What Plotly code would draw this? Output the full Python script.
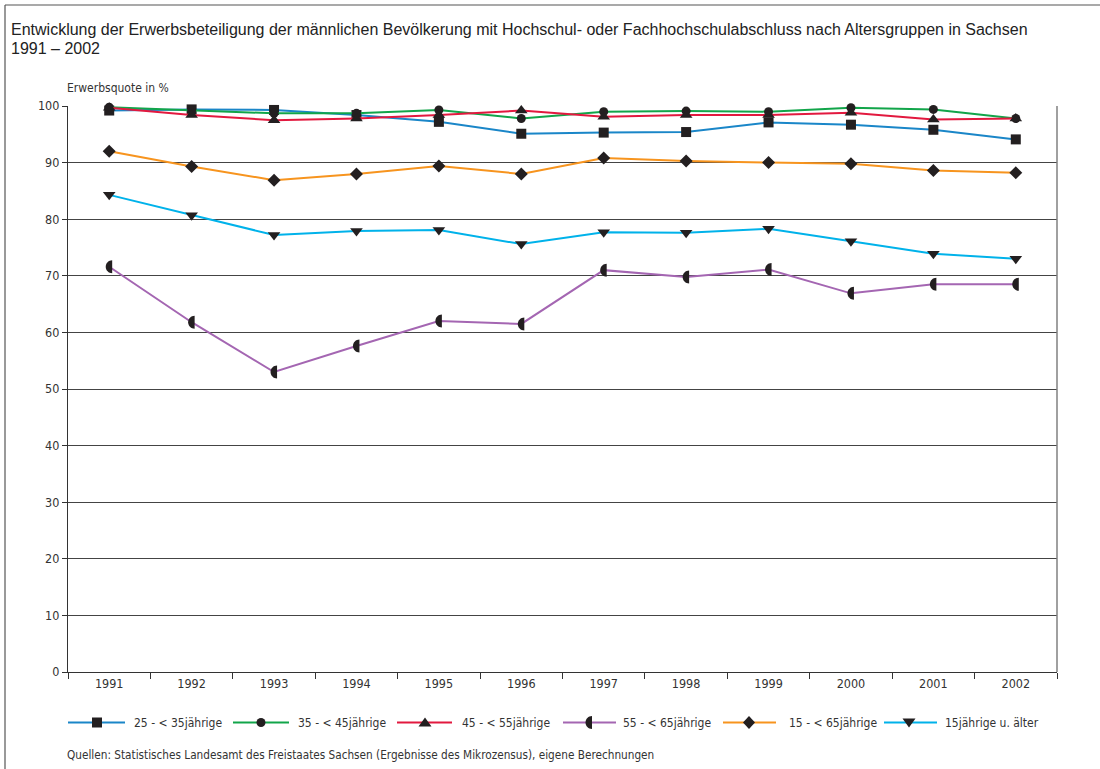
import plotly.graph_objects as go

years = ["1991", "1992", "1993", "1994", "1995", "1996", "1997", "1998", "1999", "2000", "2001", "2002"]

s25_35 = [99.2, 99.4, 99.3, 98.4, 97.2, 95.1, 95.3, 95.4, 97.1, 96.7, 95.8, 94.1]
s35_45 = [99.8, 99.3, 98.7, 98.7, 99.3, 97.8, 99.0, 99.1, 99.0, 99.7, 99.4, 97.8]
s45_55 = [99.7, 98.4, 97.5, 97.8, 98.4, 99.2, 98.1, 98.4, 98.4, 98.8, 97.6, 97.8]
s55_65 = [71.6, 61.8, 53.0, 57.6, 62.0, 61.5, 71.0, 69.8, 71.1, 66.9, 68.5, 68.5]
s15_65 = [92.0, 89.3, 86.9, 88.0, 89.4, 88.0, 90.8, 90.3, 90.0, 89.8, 88.6, 88.2]
s15_up = [84.3, 80.7, 77.2, 77.9, 78.1, 75.6, 77.7, 77.6, 78.3, 76.1, 73.9, 73.0]

names = ["25 - < 35jährige", "35 - < 45jährige", "45 - < 55jährige",
         "55 - < 65jährige", "15 - < 65jährige", "15jährige u. älter"]
y_ticks = [0, 10, 20, 30, 40, 50, 60, 70, 80, 90, 100]

title1 = "Entwicklung der Erwerbsbeteiligung der männlichen Bevölkerung mit Hochschul- oder Fachhochschulabschluss nach Altersgruppen in Sachsen"
title2 = "1991 – 2002"
y_title = "Erwerbsquote in %"
source = "Quellen: Statistisches Landesamt des Freistaates Sachsen (Ergebnisse des Mikrozensus), eigene Berechnungen"

# ---- styling / layout ----
W, H = 1100, 769
L, R, T, B = 68, 1057, 106, 672
FONT = "DejaVu Sans Condensed, DejaVu Sans, sans-serif"
TFONT = "Liberation Sans, Arial, sans-serif"
TXT = "#333333"
MK = "#231f20"
colors = ["#1a86c8", "#12a54a", "#e2193f", "#a466b2", "#f7941e", "#00b2ea"]
symbols = ["square", "circle", "triangle-up", None, "diamond", "triangle-down"]
sizes = [10, 9, 11, 0, 10, 11]
series = [s25_35, s35_45, s45_55, s55_65, s15_65, s15_up]


def px(x):
    return (x - L) / (R - L)


def py(y):
    return (B - y) / (B - T)


half = "M3,6.5 C-0.6,6.5 -3.5,3.6 -3.5,0 C-3.5,-3.6 -0.6,-6.5 3,-6.5 Z"

fig = go.Figure()
for i in range(6):
    vals = series[i]
    if symbols[i] is None:
        fig.add_trace(go.Scatter(x=years, y=vals, mode="lines", name=names[i],
                                 line=dict(color=colors[i], width=2), showlegend=False))
    else:
        fig.add_trace(go.Scatter(x=years, y=vals, mode="lines+markers", name=names[i],
                                 line=dict(color=colors[i], width=2),
                                 marker=dict(symbol=symbols[i], size=sizes[i], color=MK,
                                             line=dict(width=0)),
                                 showlegend=False, cliponaxis=False))

shapes = []
# half-circle markers for 55 - < 65 (anchored at category index + value)
for idx, v in enumerate(s55_65):
    shapes.append(dict(type="path", xref="x", yref="y", xsizemode="pixel", ysizemode="pixel",
                       xanchor=idx, yanchor=v, path=half, fillcolor=MK, line=dict(width=0),
                       layer="above"))

# right plot border
shapes.append(dict(type="line", xref="paper", yref="paper", x0=1, x1=1, y0=0, y1=1,
                   line=dict(color="#808080", width=1.5)))
# outer frame (left and top)
shapes.append(dict(type="line", xref="paper", yref="paper", x0=px(5), x1=px(5), y0=py(5), y1=py(800),
                   line=dict(color="#555555", width=1.2)))
shapes.append(dict(type="line", xref="paper", yref="paper", x0=px(5), x1=px(1110), y0=py(5), y1=py(5),
                   line=dict(color="#555555", width=1.2)))

# custom legend
leg_y = 722.5
leg_items = [(68, 125, 97, 132), (233, 289, 261, 296), (397, 452, 425, 460),
             (563, 616, 589, 621), (723, 776, 749, 787), (884, 937, 909, 943)]
leg_paths = {
    "square": "M-5,-5 H5 V5 H-5 Z",
    "triangle-up": "M0,5 L6.5,-4 L-6.5,-4 Z",
    "diamond": "M0,6.5 L6,0 L0,-6.5 L-6,0 Z",
    "triangle-down": "M0,-5 L6.5,4 L-6.5,4 Z",
}
annotations = []
for i, (x0, x1, xm, xt) in enumerate(leg_items):
    shapes.append(dict(type="line", xref="paper", yref="paper", x0=px(x0), x1=px(x1),
                       y0=py(leg_y), y1=py(leg_y), line=dict(color=colors[i], width=2)))
    sym = symbols[i]
    if sym is None:
        shapes.append(dict(type="path", xref="paper", yref="paper", xsizemode="pixel",
                           ysizemode="pixel", xanchor=px(xm), yanchor=py(leg_y), path=half,
                           fillcolor=MK, line=dict(width=0)))
    elif sym == "circle":
        shapes.append(dict(type="circle", xref="paper", yref="paper", xsizemode="pixel",
                           ysizemode="pixel", xanchor=px(xm), yanchor=py(leg_y),
                           x0=-4.5, x1=4.5, y0=-4.5, y1=4.5, fillcolor=MK, line=dict(width=0)))
    else:
        shapes.append(dict(type="path", xref="paper", yref="paper", xsizemode="pixel",
                           ysizemode="pixel", xanchor=px(xm), yanchor=py(leg_y),
                           path=leg_paths[sym], fillcolor=MK, line=dict(width=0)))
    annotations.append(dict(text=names[i], xref="paper", yref="paper", x=px(xt), y=py(leg_y),
                            xanchor="left", yanchor="middle", showarrow=False,
                            font=dict(family=FONT, size=12, color=TXT)))

annotations += [
    dict(text=title1, xref="paper", yref="paper", x=px(9), y=py(30), xanchor="left",
         yanchor="middle", showarrow=False, font=dict(family=TFONT, size=16, color="#222222")),
    dict(text=title2, xref="paper", yref="paper", x=px(9), y=py(49), xanchor="left",
         yanchor="middle", showarrow=False, font=dict(family=TFONT, size=16, color="#222222")),
    dict(text=y_title, xref="paper", yref="paper", x=px(65), y=py(88), xanchor="left",
         yanchor="middle", showarrow=False, font=dict(family=FONT, size=12, color=TXT)),
    dict(text=source, xref="paper", yref="paper", x=px(65), y=py(755), xanchor="left",
         yanchor="middle", showarrow=False, font=dict(family=FONT, size=11.7, color=TXT)),
]

fig.update_layout(
    width=W, height=H,
    margin=dict(l=L, r=W - R, t=T, b=H - B, pad=0),
    paper_bgcolor="white", plot_bgcolor="white",
    shapes=shapes, annotations=annotations,
    showlegend=False,
    font=dict(family=FONT, size=12, color=TXT),
    xaxis=dict(type="category", categoryorder="array", categoryarray=years,
               range=[-0.5, len(years) - 0.5], autorange=False,
               tickson="boundaries", ticks="outside", ticklen=6, tickcolor="#333333",
               showline=True, linecolor="#333333", linewidth=1.2, showgrid=False,
               zeroline=False, tickangle=0, tickfont=dict(family=FONT, size=12.5, color=TXT)),
    yaxis=dict(range=[0, 100], autorange=False, tickvals=y_ticks, ticks="outside", ticklen=5,
               tickcolor="#333333", showline=True, linecolor="#333333", linewidth=1.2,
               showgrid=True, gridcolor="#444444", gridwidth=1, zeroline=False,
               tickfont=dict(family=FONT, size=12.5, color=TXT)),
)

fig.write_html("out.html", config={"displayModeBar": False},
               post_script="document.body.style.margin='0';")
